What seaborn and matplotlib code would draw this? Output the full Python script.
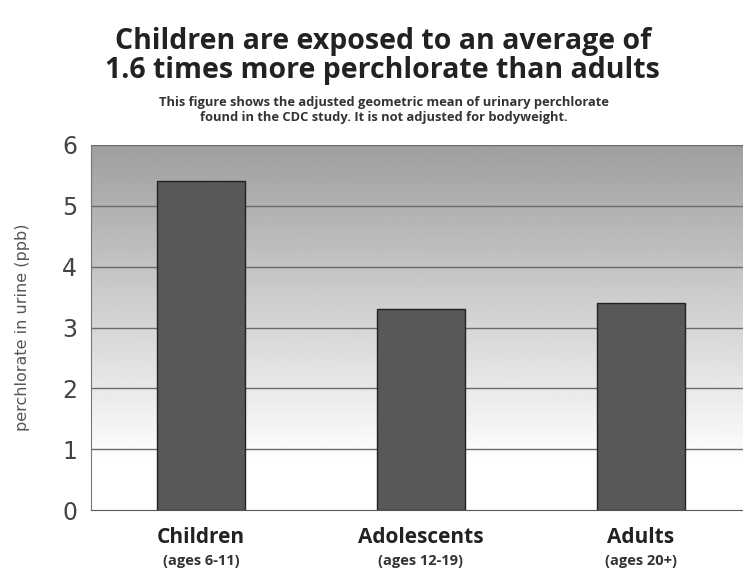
import numpy as np
import pandas as pd
import matplotlib
matplotlib.use("Agg")
import matplotlib.pyplot as plt
import seaborn as sns

groups = ["Children", "Adolescents", "Adults"]
ages = ["(ages 6-11)", "(ages 12-19)", "(ages 20+)"]
perchlorate = [5.4, 3.3, 3.4]
yticks = [0, 1, 2, 3, 4, 5, 6]

sns.set_style("white")
plt.rcParams['font.family'] = ['Open Sans', 'DejaVu Sans']

df = pd.DataFrame({"group": groups, "value": perchlorate})

fig = plt.figure(figsize=(7.43, 5.69), dpi=100)
ax = fig.add_axes([91/743, 59/569, 660/743, 365/569])

# gradient background, darker at the top, white near zero
grad = np.linspace(1.0, 0.0, 256).reshape(-1, 1)
shade = np.clip(0.62 + 0.38 * (1 - grad) * 1.15, 0, 1)
ax.imshow(shade, cmap="gray", vmin=0, vmax=1, aspect="auto",
          extent=(-0.5, 2.5, 0, 6), zorder=0)

for y in yticks[1:]:
    ax.axhline(y, color="#6a6a6a", lw=1, zorder=1)

sns.barplot(data=df, x="group", y="value", color="#585858", width=0.4,
            edgecolor="#222222", linewidth=1, saturation=1, ax=ax, zorder=2)

ax.set_xlim(-0.5, 2.5)
ax.set_ylim(0, 6)
ax.set_yticks(yticks)
ax.set_yticklabels([str(t) for t in yticks], fontsize=17, color="#444444",
                   family="DejaVu Sans")
ax.tick_params(axis="y", length=0, pad=10)
ax.set_xticks([0, 1, 2])
ax.set_xticklabels(groups, fontsize=15, fontweight="bold", color="#222222")
ax.tick_params(axis="x", length=0, pad=12)
for i, a in enumerate(ages):
    ax.text(i, -0.84, a, ha="center", va="center", fontsize=10.5,
            fontweight="bold", color="#333333")
ax.set_xlabel("")
ax.set_ylabel("perchlorate in urine (ppb)", fontsize=11.5, color="#555555",
              family="DejaVu Sans", labelpad=23)

for s in ["top", "right"]:
    ax.spines[s].set_visible(False)
ax.spines["left"].set_color("#777777")
ax.spines["bottom"].set_color("#555555")

fig.text(0.515, 0.902, "Children are exposed to an average of\n1.6 times more perchlorate than adults",
         ha="center", va="center", fontsize=20.5, fontweight="bold",
         color="#222222", linespacing=1.02)
fig.text(0.517, 0.806, "This figure shows the adjusted geometric mean of urinary perchlorate\n"
         "found in the CDC study. It is not adjusted for bodyweight.",
         ha="center", va="center", fontsize=9.3, fontweight="bold",
         color="#333333", linespacing=1.2)

fig.savefig("out.png", dpi=100)
